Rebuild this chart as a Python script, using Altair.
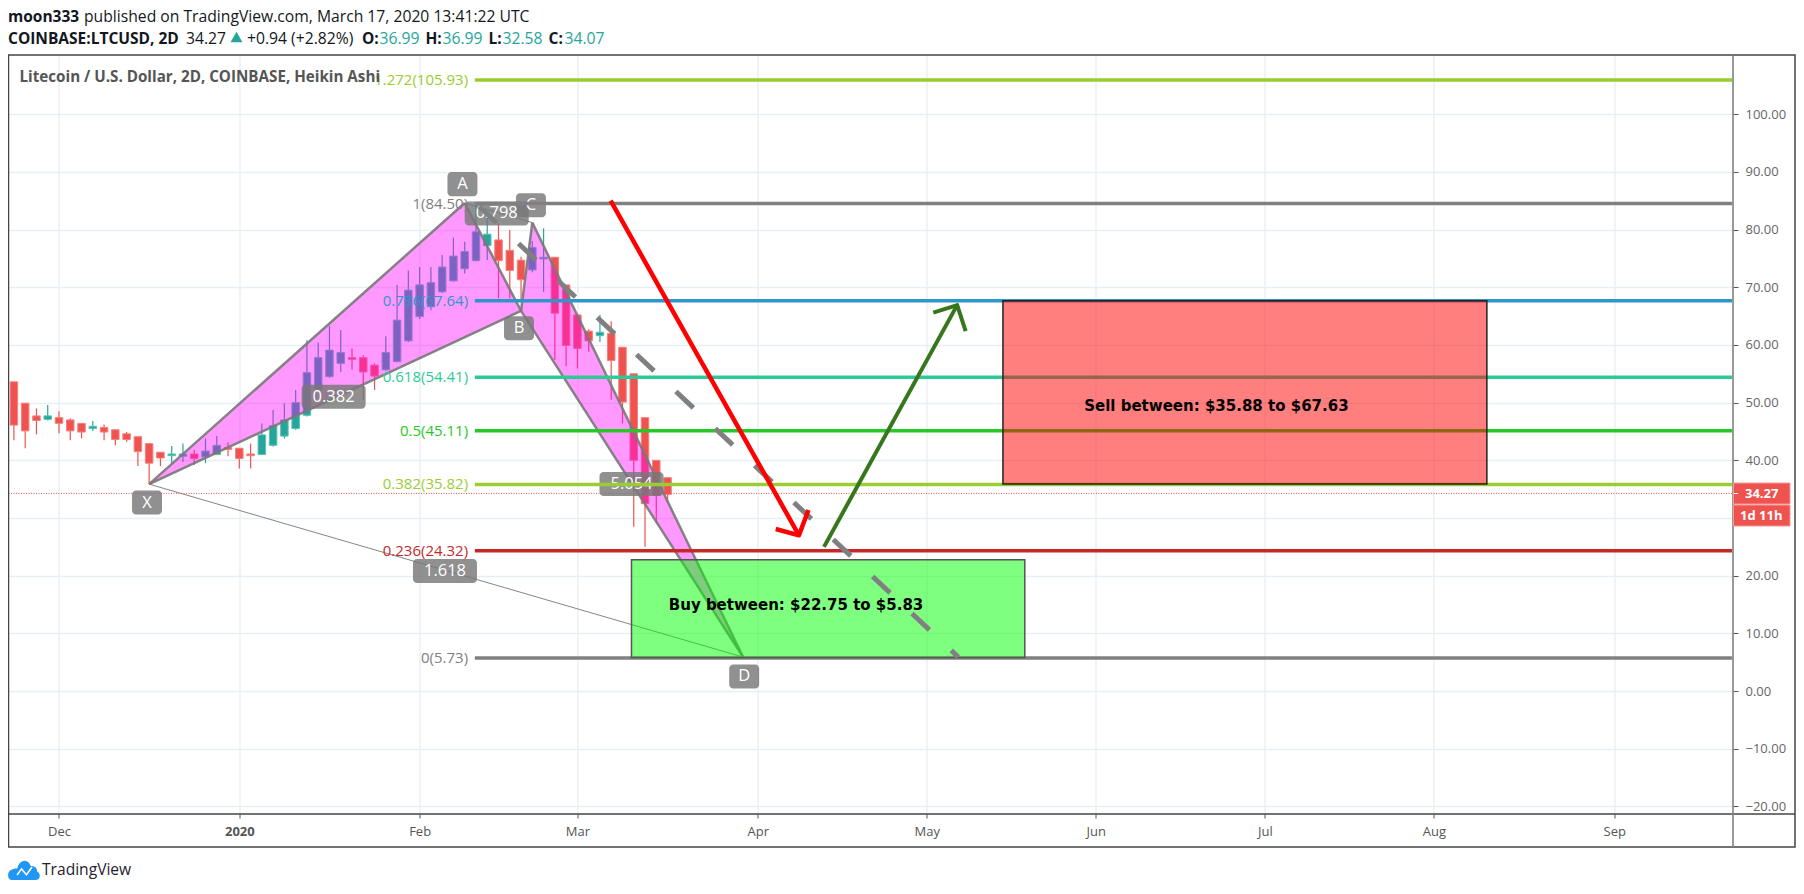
import altair as alt
import pandas as pd

# ---- candle data (x = bar index, one bar every 2 days)
bar_index = list(range(-4, 55))
opens = [53.6,49.9,47.7,47.1,47.4,47.0,46.4,45.5,45.7,45.3,44.6,44.1,42.9,41.4,40.8,40.7,41.1,40.6,41.0,42.2,42.1,41.1,41.0,42.6,44.2,45.5,47.8,52.2,54.5,56.8,57.8,57.8,56.5,55.7,57.1,60.7,64.9,66.6,69.2,71.1,73.2,74.6,77.2,78.2,76.4,74.7,73.0,74.9,75.2,70.4,65.2,62.4,61.6,62.0,59.6,55.0,47.4,40.0,36.99]
highs = [53.6,49.9,49.0,49.6,48.5,47.3,46.4,46.8,46.2,45.3,44.9,44.1,42.9,41.4,42.5,42.9,41.8,43.8,44.2,43.1,42.1,42.9,46.4,48.7,49.9,52.2,60.8,60.4,63.3,62.6,59.4,58.2,56.8,61.5,70.4,72.9,73.5,73.5,75.6,78.6,77.9,84.5,82.5,81.1,79.9,75.3,78.0,80.2,75.2,70.4,65.2,62.7,65.2,64.1,59.6,55.0,47.4,40.0,36.99]
lows = [43.5,42.1,44.5,46.9,44.7,43.5,43.8,45.1,43.5,42.6,43.2,39.0,35.9,39.0,39.5,39.7,39.2,39.5,41.0,40.7,38.6,38.6,41.0,42.4,43.8,45.3,47.6,52.0,54.3,55.3,55.7,50.4,52.2,55.5,57.0,60.5,64.5,66.0,69.0,71.0,72.4,74.5,74.7,68.1,68.1,67.5,72.6,69.2,57.4,56.3,55.9,58.8,60.5,50.5,46.4,28.5,25.0,29.1,32.58]
closes = [46.1,45.1,46.9,47.7,46.4,45.1,44.9,45.9,44.9,43.6,43.6,41.5,39.5,40.4,41.1,41.1,40.3,41.6,42.6,41.9,40.3,40.8,44.4,46.0,47.0,50.0,55.2,57.8,59.1,58.7,57.5,55.3,54.6,58.7,64.3,69.5,70.4,70.8,73.5,75.4,76.2,79.6,79.2,74.6,72.9,71.3,76.9,75.2,65.5,59.9,59.4,60.7,62.2,57.3,50.1,40.0,32.5,33.9,34.07]

# ---- fibonacci levels
fib_labels = ["1.272(105.93)", "1(84.50)", "0.786(67.64)", "0.618(54.41)", "0.5(45.11)", "0.382(35.82)", "0.236(24.32)", "0(5.73)"]
fib_values = [105.93, 84.50, 67.64, 54.41, 45.11, 35.82, 24.32, 5.73]
fib_colors = ["#9acd2c", "#808080", "#2d96cb", "#2ccb96", "#26c826", "#9acd32", "#c62828", "#808080"]

# ---- harmonic pattern vertices
pat_names = ["X", "A", "B", "C", "D"]
pat_x = [8.0, 36.0, 41.0, 42.0, 60.7]
pat_y = [35.87, 84.6, 65.9, 81.2, 5.9]

# ---- pattern tags
tag_text = ["X", "A", "B", "C", "D", "0.382", "0.798", "1.618", "5.054"]
tag_x = [7.81, 35.8, 40.82, 41.88, 60.8, 24.37, 38.84, 34.25, 50.8]
tag_y = [32.67, 87.87, 62.91, 84.2, 2.55, 51.0, 82.8, 20.8, 35.9]
tag_w = [2.66, 2.66, 2.66, 2.66, 2.66, 5.68, 5.68, 5.68, 5.68]
tag_h = [4.16] * 9

# ---- zones
zone_x = [83.76, 50.8]
zone_x2 = [126.7, 85.7]
zone_y = [67.64, 22.75]
zone_y2 = [35.88, 5.83]
zone_fill = ["#ff0000", "#00ff00"]
zone_stroke = ["#222222", "#555555"]
zone_text = ["Sell between: $35.88 to $67.63", "Buy between: $22.75 to $5.83"]
zone_tx = [102.7, 65.4]
zone_ty = [49.5, 15.0]

# ---- arrows and dashed projection
red_x = [48.95, 65.66]
red_y = [85.0, 27.0]
red_head_x = [63.6, 65.66, 66.5]
red_head_y = [28.1, 27.0, 31.4]
green_x = [67.88, 79.7]
green_y = [25.0, 66.9]
green_head_x = [77.58, 79.7, 80.45]
green_head_y = [65.6, 66.9, 62.4]
dash_x = [36.9, 79.8]
dash_y = [84.7, 5.9]

# ---- axis
y_ticks = list(range(-20, 101, 10))
x_ticks = [0, 16, 32, 46, 62, 77, 92, 107, 122, 138]
x_names = ["Dec", "2020", "Feb", "Mar", "Apr", "May", "Jun", "Jul", "Aug", "Sep"]
last_price = 34.27

W, H = 1724.5, 759
FONT = "Open Sans"
xs = alt.Scale(domain=[-4.48, 148.54], nice=False, zero=False, padding=0)
ys = alt.Scale(domain=[-21.3, 110.25], nice=False, zero=False, padding=0)


def X(f="x"):
    return alt.X(f"{f}:Q", scale=xs, axis=None, title=None)


def Y(f="y"):
    return alt.Y(f"{f}:Q", scale=ys, axis=None, title=None)


one = pd.DataFrame({"a": [0]})
label_expr = "{" + ",".join(f"'{t}':'{n}'" for t, n in zip(x_ticks, x_names)) + "}[datum.value]"

axes = alt.Chart(pd.DataFrame({"x": [0], "y": [0]})).mark_point(opacity=0).encode(
    x=alt.X("x:Q", scale=xs, title=None, axis=alt.Axis(
        values=x_ticks, labelExpr=label_expr, grid=True, gridColor="#e6eef6", gridWidth=1.3,
        domain=False, tickColor="#555555", tickSize=4, labelColor="#555555", labelFont=FONT,
        labelFontSize=13, labelPadding=7, labelAngle=0, labelFlush=False, labelOverlap=False,
        labelFontWeight={"condition": {"test": "datum.value === 16", "value": "bold"}, "value": "normal"})),
    y=alt.Y("y:Q", scale=ys, title=None, axis=alt.Axis(
        orient="right", values=y_ticks, grid=True, gridColor="#e6eef6", gridWidth=1.3,
        labelExpr="datum.value === 30 ? '' : format(datum.value, '.2f')",
        domain=False, tickColor="#555555", tickSize=5, labelColor="#666666", labelFont=FONT,
        labelFontSize=13, labelPadding=7, labelOverlap=False, labelBound=False)),
)

candles = pd.DataFrame({"x": bar_index, "o": opens, "h": highs, "l": lows, "c": closes})
candles["col"] = ["#26a69a" if c >= o else "#ef5350" for o, c in zip(opens, closes)]
candles["line"] = ["#5cc0b6" if c >= o else "#f8807e" for o, c in zip(opens, closes)]
wicks = alt.Chart(candles).mark_rule(strokeWidth=1.2).encode(
    x=X(), y=Y("l"), y2="h:Q", color=alt.Color("col:N", scale=None))
bodies = alt.Chart(candles).mark_bar(size=7.5, strokeWidth=1).encode(
    x=X(), y=Y("o"), y2="c:Q", fill=alt.Fill("col:N", scale=None), stroke=alt.Stroke("line:N", scale=None))


def tri(a, b, c):
    """Filled triangle on pattern vertices a, b, c given left to right."""
    xa, xb, xc = pat_x[a], pat_x[b], pat_x[c]
    ya, yb, yc = pat_y[a], pat_y[b], pat_y[c]
    mid = ya + (yc - ya) * (xb - xa) / (xc - xa)
    return pd.DataFrame({"x": [xa, xb, xc], "y": [ya, yb, yc], "y2": [ya, mid, yc]})


fill1 = alt.Chart(tri(0, 1, 2)).mark_area(color="#ff00ff", opacity=0.4).encode(x=X(), y=Y(), y2="y2:Q")
fill2 = alt.Chart(tri(2, 3, 4)).mark_area(color="#ff00ff", opacity=0.4).encode(x=X(), y=Y(), y2="y2:Q")


def polyline(xv, yv, **kw):
    d = pd.DataFrame({"x": xv, "y": yv, "o": list(range(len(xv)))})
    return alt.Chart(d).mark_line(**kw).encode(x=X(), y=Y(), order="o:Q")


thick = dict(color="#787878", strokeWidth=2.5, opacity=0.9)
thin = dict(color="#787878", strokeWidth=1, opacity=0.9)
pattern = []
for a, b in [(0, 1), (1, 2), (2, 0), (2, 3), (3, 4), (4, 2)]:
    pattern.append(polyline([pat_x[a], pat_x[b]], [pat_y[a], pat_y[b]], **thick))
for a, b in [(0, 4), (1, 3)]:
    pattern.append(polyline([pat_x[a], pat_x[b]], [pat_y[a], pat_y[b]], **thin))

fib = pd.DataFrame({"label": fib_labels, "y": fib_values, "col": fib_colors, "x": 36.9, "x2": 148.45, "tx": 36.3})
fib_lines = alt.Chart(fib).mark_rule(strokeWidth=3.5).encode(
    x=X(), x2="x2:Q", y=Y(), color=alt.Color("col:N", scale=None))
fib_text = alt.Chart(fib).mark_text(align="right", baseline="middle", font=FONT, fontSize=15).encode(
    x=X("tx"), y=Y(), text="label:N", color=alt.Color("col:N", scale=None))

price_line = alt.Chart(pd.DataFrame({"y": [last_price], "x": [-4.48], "x2": [148.54]})).mark_rule(
    color="#ef5350", strokeWidth=1, strokeDash=[1, 1.5]).encode(x=X(), x2="x2:Q", y=Y())

zones = pd.DataFrame({"x": zone_x, "x2": zone_x2, "y": zone_y, "y2": zone_y2, "f": zone_fill, "s": zone_stroke})
zone_rect = alt.Chart(zones).mark_rect(fillOpacity=0.5, strokeWidth=1.5).encode(
    x=X(), x2="x2:Q", y=Y(), y2="y2:Q", fill=alt.Fill("f:N", scale=None), stroke=alt.Stroke("s:N", scale=None))
zone_lab = alt.Chart(pd.DataFrame({"x": zone_tx, "y": zone_ty, "t": zone_text})).mark_text(
    font="DejaVu Sans", fontWeight="bold", fontSize=15, color="#000000", baseline="middle").encode(
    x=X(), y=Y(), text="t:N")

dash = polyline(dash_x, dash_y, color="#808080", strokeWidth=5, strokeDash=[24, 30], strokeDashOffset=-6)
red1 = polyline(red_x, red_y, color="#ff0000", strokeWidth=4.5)
red2 = polyline(red_head_x, red_head_y, color="#ff0000", strokeWidth=4.5, strokeJoin="round")
grn1 = polyline(green_x, green_y, color="#38761d", strokeWidth=4)
grn2 = polyline(green_head_x, green_head_y, color="#38761d", strokeWidth=4, strokeJoin="round")

tags = pd.DataFrame({"t": tag_text, "cx": tag_x, "cy": tag_y})
tags["x"] = [c - w / 2 for c, w in zip(tag_x, tag_w)]
tags["x2"] = [c + w / 2 for c, w in zip(tag_x, tag_w)]
tags["y"] = [c - h / 2 for c, h in zip(tag_y, tag_h)]
tags["y2"] = [c + h / 2 for c, h in zip(tag_y, tag_h)]
tag_box = alt.Chart(tags).mark_rect(color="#787878", opacity=0.82, cornerRadius=4).encode(
    x=X(), x2="x2:Q", y=Y(), y2="y2:Q")
tag_lab = alt.Chart(tags).mark_text(color="#ffffff", font=FONT, fontSize=16.5, baseline="middle").encode(
    x=X("cx"), y=Y("cy"), text="t:N")

# ---- chrome (pixel positions relative to plot origin at page 8.5, 55)
OX, OY = 8.5, 55


def txt(s, px, py, size=15.7, weight="normal", color="#131722", font=FONT, align="left"):
    return alt.Chart(one).mark_text(text=s, font=font, fontSize=size, fontWeight=weight, color=color,
                                    align=align, baseline="middle").encode(
        x=alt.value(px - OX), y=alt.value(py - OY))


def box(x0, x1, y0, y1, **kw):
    return alt.Chart(one).mark_rect(**kw).encode(
        x=alt.value(x0 - OX), x2=alt.value(x1 - OX), y=alt.value(y0 - OY), y2=alt.value(y1 - OY))


TEAL = "#26a69a"
header = [
    txt("moon333", 8, 16.5, size=15.5, weight="bold"),
    txt("published on TradingView.com, March 17, 2020 13:41:22 UTC", 84, 16.5),
    txt("COINBASE:LTCUSD, 2D", 8, 39, size=15.5, weight="bold"),
    txt("34.27", 186, 39),
    alt.Chart(one).mark_point(shape="triangle-up", filled=True, color=TEAL, opacity=1, size=144).encode(
        x=alt.value(236.5 - OX), y=alt.value(37 - OY)),
    txt("+0.94 (+2.82%)", 247, 39),
    txt("O:", 362, 39, size=15.5, weight="bold"), txt("36.99", 379.5, 39, color=TEAL),
    txt("H:", 425.5, 39, size=15.5, weight="bold"), txt("36.99", 442.5, 39, color=TEAL),
    txt("L:", 488.5, 39, size=15.5, weight="bold"), txt("32.58", 502.5, 39, color=TEAL),
    txt("C:", 548.5, 39, size=15.5, weight="bold"), txt("34.07", 564.5, 39, color=TEAL),
]
title = txt("Litecoin / U.S. Dollar, 2D, COINBASE, Heikin Ashi", 19.5, 77, size=15.2, weight="bold", color="#555555")

frame = [
    box(8.5, 1795, 55, 847, fillOpacity=0, stroke="#444444", strokeWidth=1.5),
    alt.Chart(one).mark_rule(color="#444444", strokeWidth=1.3).encode(
        x=alt.value(0), x2=alt.value(1795 - OX), y=alt.value(814 - OY)),
    alt.Chart(one).mark_rule(color="#808080", strokeWidth=1.6).encode(
        x=alt.value(1733 - OX), y=alt.value(0), y2=alt.value(847 - OY)),
]
badge = [
    box(1733.5, 1790, 483, 504, fill="#ef5350", stroke="#f89a98", strokeWidth=1),
    box(1733.5, 1790, 505, 526, fill="#ef5350", stroke="#f89a98", strokeWidth=1),
    alt.Chart(one).mark_rule(color="#ffffff", strokeWidth=1).encode(
        x=alt.value(1733.5 - OX), x2=alt.value(1738 - OX), y=alt.value(493.5 - OY)),
    txt("34.27", 1745, 493.5, size=13, weight="bold", color="#ffffff"),
    txt("1d 11h", 1740, 516, size=13, weight="bold", color="#ffffff"),
]
cloud = ("M-0.78,0.62 C-1.02,0.62 -1.1,0.1 -0.8,0.0 C-0.7,-0.1 -0.55,-0.1 -0.42,-0.1 "
         "C-0.35,-0.45 -0.05,-0.65 0.15,-0.55 C0.32,-0.5 0.38,-0.35 0.42,-0.25 "
         "C0.7,-0.3 0.85,-0.05 0.82,0.1 C1.05,0.2 1.05,0.62 0.75,0.62 Z")
logo = [
    alt.Chart(one).mark_point(shape=cloud, filled=True, color="#2196f3", opacity=1, size=1024).encode(
        x=alt.value(24 - OX), y=alt.value(870 - OY)),
    alt.Chart(one).mark_point(shape="M-1,0.8 L-0.1,-0.4 L0.9,0.75 L2.0,-0.8", filled=False, color="#ffffff",
                              opacity=1, size=100, strokeWidth=1.5).encode(
        x=alt.value(22 - OX), y=alt.value(871 - OY)),
    txt("TradingView", 42, 870, size=15.6, color="#1e222d"),
]

layers = ([axes, price_line, wicks, bodies, fill1, fill2] + pattern + [tag_box, tag_lab, fib_lines, zone_rect, dash, fib_text]
          + [zone_lab, red1, red2, grn1, grn2, title] + frame + badge + header + logo)

chart = alt.layer(*layers).resolve_axis(x="independent", y="independent").properties(
    width=W, height=H,
    autosize=alt.AutoSizeParams(type="none"),
    padding={"left": 0.5, "top": 47, "right": 63, "bottom": 66},
    background="#ffffff",
).configure_view(stroke=None)

chart.save("out.html", embed_options={"renderer": "svg", "actions": False})
